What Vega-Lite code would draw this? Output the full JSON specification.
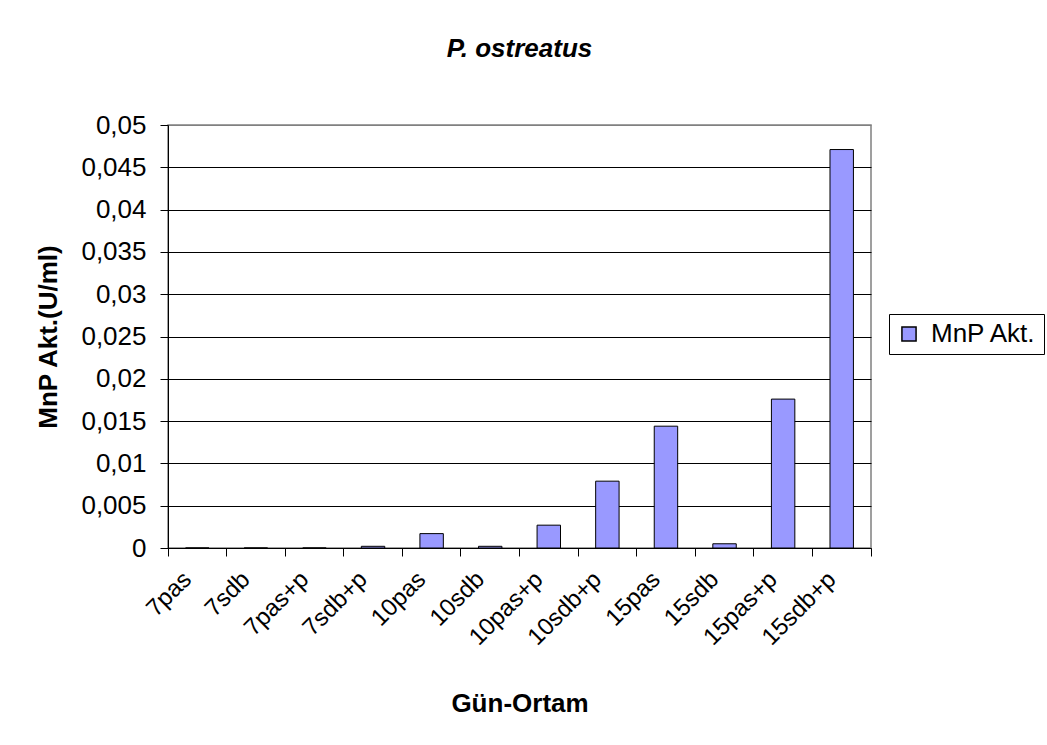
{
  "$schema": "https://vega.github.io/schema/vega-lite/v6.json",
  "width": 703,
  "height": 423,
  "autosize": {"type": "none"},
  "padding": {"left": 168, "top": 125, "right": 176, "bottom": 197},
  "background": "white",
  "title": {
    "text": "P. ostreatus",
    "font": "Liberation Sans",
    "fontSize": 26,
    "fontWeight": "bold",
    "fontStyle": "italic",
    "color": "black",
    "anchor": "middle",
    "frame": "group",
    "offset": 50
  },
  "data": {
    "values": [
      {"gun": "7pas", "mnp": 0},
      {"gun": "7sdb", "mnp": 0},
      {"gun": "7pas+p", "mnp": 0},
      {"gun": "7sdb+p", "mnp": 0.0002},
      {"gun": "10pas", "mnp": 0.0017},
      {"gun": "10sdb", "mnp": 0.0002},
      {"gun": "10pas+p", "mnp": 0.0027},
      {"gun": "10sdb+p", "mnp": 0.0079},
      {"gun": "15pas", "mnp": 0.0144},
      {"gun": "15sdb", "mnp": 0.0005},
      {"gun": "15pas+p", "mnp": 0.0176},
      {"gun": "15sdb+p", "mnp": 0.0471}
    ]
  },
  "mark": {"type": "bar", "width": {"band": 0.4}, "stroke": "black", "strokeWidth": 1},
  "encoding": {
    "x": {
      "field": "gun",
      "type": "nominal",
      "sort": null,
      "title": "Gün-Ortam",
      "scale": {"paddingInner": 0, "paddingOuter": 0},
      "axis": {
        "bandPosition": 1,
        "tickExtra": true,
        "ticks": true,
        "tickSize": 8,
        "tickColor": "black",
        "domainColor": "black",
        "grid": false,
        "labelAngle": -45,
        "labelAlign": "right",
        "labelBaseline": "top",
        "labelOffset": -18,
        "labelFont": "Liberation Sans",
        "labelFontSize": 24,
        "labelColor": "black",
        "labelPadding": 11,
        "titleFont": "Liberation Sans",
        "titleFontSize": 26,
        "titleFontWeight": "bold",
        "titleColor": "black",
        "titleBaseline": "middle",
        "titleY": 155
      }
    },
    "y": {
      "field": "mnp",
      "type": "quantitative",
      "title": "MnP Akt.(U/ml)",
      "scale": {"domain": [0, 0.05], "nice": false, "zero": true},
      "axis": {
        "values": [0, 0.005, 0.01, 0.015, 0.02, 0.025, 0.03, 0.035, 0.04, 0.045, 0.05],
        "labelExpr": "replace(format(datum.value, '~f'), '.', ',')",
        "tickSize": 8,
        "tickColor": "black",
        "domainColor": "black",
        "grid": true,
        "gridColor": {"condition": {"test": "datum.value >= 0.05", "value": "#808080"}, "value": "black"},
        "gridWidth": 1,
        "labelFont": "Liberation Sans",
        "labelFontSize": 26,
        "labelColor": "black",
        "labelPadding": 14,
        "titleFont": "Liberation Sans",
        "titleFontSize": 26,
        "titleFontWeight": "bold",
        "titleColor": "black",
        "titleBaseline": "middle",
        "titleX": -120
      }
    },
    "color": {
      "datum": "MnP Akt.",
      "type": "nominal",
      "scale": {"range": ["#9999FF"]},
      "legend": {
        "title": null,
        "orient": "none",
        "legendX": 721,
        "legendY": 189,
        "strokeColor": "black",
        "fillColor": "white",
        "padding": 7,
        "symbolType": "square",
        "symbolSize": 200,
        "symbolStrokeColor": "black",
        "symbolStrokeWidth": 1.5,
        "symbolOpacity": 1,
        "labelFont": "Liberation Sans",
        "labelFontSize": 26,
        "labelColor": "black",
        "labelOffset": 9
      }
    }
  },
  "config": {
    "view": {"stroke": "#808080", "strokeWidth": 1.5},
    "font": "Liberation Sans"
  }
}
